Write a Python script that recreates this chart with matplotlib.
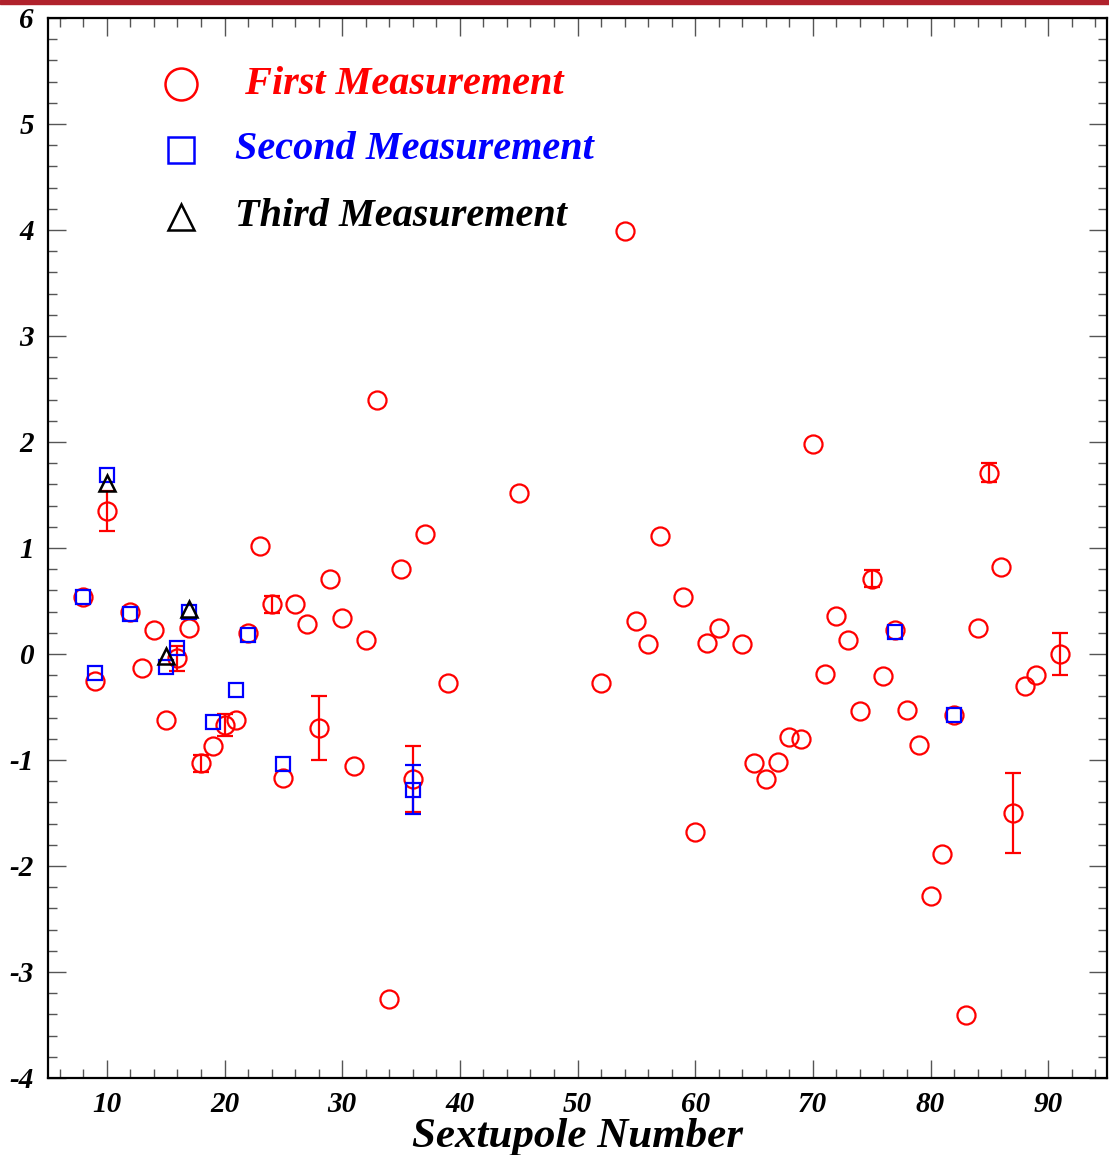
import numpy as np
import matplotlib
matplotlib.use("Agg")
import matplotlib.pyplot as plt
from matplotlib.ticker import MultipleLocator
from matplotlib.patches import Rectangle

plt.rcParams["axes.unicode_minus"] = False

# ---- data ----
first_x = [8, 9, 10, 12, 13, 14, 15, 16, 17, 18, 19, 20, 21, 22, 23, 24, 25, 26, 27, 28,
           29, 30, 31, 32, 33, 34, 35, 36, 37, 39, 45, 52, 54, 55, 56, 57, 59, 60, 61, 62,
           64, 65, 66, 67, 68, 69, 70, 71, 72, 73, 74, 75, 76, 77, 78, 79, 80, 81, 82, 83,
           84, 85, 86, 87, 88, 89, 91]
first_y = [0.54, -0.25, 1.35, 0.40, -0.13, 0.23, -0.62, -0.04, 0.25, -1.03, -0.87, -0.67, -0.62, 0.20, 1.02, 0.47, -1.17, 0.47, 0.28, -0.70,
           0.71, 0.34, -1.06, 0.13, 2.40, -3.25, 0.80, -1.18, 1.13, -0.27, 1.52, -0.27, 3.99, 0.31, 0.09, 1.11, 0.54, -1.68, 0.10, 0.25,
           0.09, -1.03, -1.18, -1.02, -0.78, -0.80, 1.98, -0.19, 0.36, 0.13, -0.54, 0.71, -0.21, 0.23, -0.53, -0.86, -2.28, -1.89, -0.58, -3.41,
           0.25, 1.71, 0.82, -1.50, -0.30, -0.20, 0.00]
first_err = [0, 0, 0.19, 0, 0, 0, 0, 0.12, 0, 0.08, 0, 0.10, 0, 0, 0, 0.08, 0, 0, 0, 0.30,
             0, 0, 0, 0, 0, 0, 0, 0.31, 0, 0, 0, 0, 0, 0, 0, 0, 0, 0, 0, 0,
             0, 0, 0, 0, 0, 0, 0, 0, 0, 0, 0, 0.08, 0, 0, 0, 0, 0, 0, 0, 0,
             0, 0.09, 0, 0.375, 0, 0, 0.20]

second_x = [8, 9, 10, 12, 15, 16, 17, 19, 21, 22, 25, 36, 77, 82]
second_y = [0.54, -0.18, 1.69, 0.38, -0.12, 0.06, 0.40, -0.64, -0.34, 0.18, -1.04, -1.28, 0.21, -0.58]
second_err = [0, 0, 0, 0, 0, 0, 0, 0, 0, 0, 0, 0.23, 0, 0]

third_x = [10, 15, 17]
third_y = [1.61, -0.02, 0.42]

labels = [" First Measurement", "Second Measurement", "Third Measurement"]
label_colors = ["#ff0000", "#0000ff", "#000000"]
xticks = [10, 20, 30, 40, 50, 60, 70, 80, 90]
yticks = [-4, -3, -2, -1, 0, 1, 2, 3, 4, 5, 6]

# ---- figure ----
W, H, DPI = 1109, 1155, 100
fig = plt.figure(figsize=(W / DPI, H / DPI), dpi=DPI)
ax = fig.add_axes([48 / W, 1 - 1078 / H, (1107 - 48) / W, (1078 - 18) / H])

# top red band
fig.patches.append(Rectangle((0, 1 - 4 / H), 1, 4 / H, transform=fig.transFigure,
                             color="#b0222c", zorder=10))

serif = "Liberation Serif"
red, blue = "#ff0000", "#0000ff"

fx = np.array(first_x); fy = np.array(first_y); fe = np.array(first_err)
sx = np.array(second_x); sy = np.array(second_y); se = np.array(second_err)

m = fe > 0
ax.errorbar(fx[m], fy[m], yerr=fe[m], fmt="none", ecolor=red, elinewidth=1.6,
            capsize=6, capthick=1.6, zorder=2)
ax.plot(fx, fy, "o", ms=13, mfc="none", mec=red, mew=1.6, zorder=3)

m2 = se > 0
ax.errorbar(sx[m2], sy[m2], yerr=se[m2], fmt="none", ecolor=blue, elinewidth=1.6,
            capsize=6, capthick=1.6, zorder=4)
ax.plot(sx, sy, "s", ms=10.5, mfc="none", mec=blue, mew=1.6, zorder=5)

ax.plot(third_x, third_y, "^", ms=11, mfc="none", mec="black", mew=1.8, zorder=6)

ax.set_xlim(5, 95)
ax.set_ylim(-4, 6)
ax.set_xticks(xticks)
ax.set_yticks(yticks)
ax.xaxis.set_minor_locator(MultipleLocator(2))
ax.yaxis.set_minor_locator(MultipleLocator(0.2))
ax.tick_params(which="both", direction="in", top=True, right=True, color="#555555")
ax.tick_params(which="major", length=13, width=1)
ax.tick_params(which="minor", length=6.5, width=1)
ax.tick_params(axis="y", pad=10)
ax.tick_params(axis="x", pad=9)
for lab in ax.get_xticklabels() + ax.get_yticklabels():
    lab.set_family(serif); lab.set_style("italic"); lab.set_weight("bold"); lab.set_fontsize(21)
for s in ax.spines.values():
    s.set_linewidth(1.6)

ax.set_xlabel("Sextupole Number", family=serif, style="italic", weight="bold",
              fontsize=31, labelpad=0)

# legend (manual)
rows_y = [0.9377, 0.8755, 0.8123]
mk = [("o", 23), ("s", 19), ("^", 19)]
for (mstyle, msz), yy, lab, col in zip(mk, rows_y, labels, label_colors):
    ax.plot([0.1256], [yy], mstyle, ms=msz, mfc="none", mec=col, mew=1.8,
            transform=ax.transAxes, clip_on=False)
    ax.text(0.1766, yy, lab, transform=ax.transAxes, color=col, family=serif,
            style="italic", weight="bold", fontsize=29, va="center", ha="left")

fig.savefig("out.png", dpi=DPI)
